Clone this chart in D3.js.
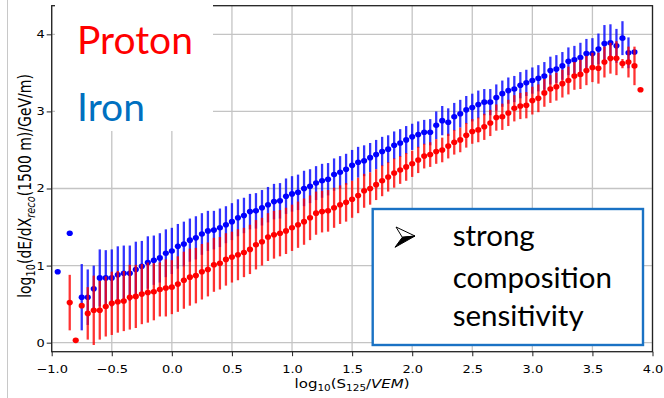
<!DOCTYPE html>
<html>
<head>
<meta charset="utf-8">
<script src="https://cdn.jsdelivr.net/npm/d3@7"></script>
<style>
  body { margin: 0; background: #fff; }
  svg { display: block; }
</style>
</head>
<body>
<div id="chart"></div>
<script>
// data (log10 S125 bins, mean log10 dE/dX, error half-length)
const protonX = [-0.85, -0.80, -0.75, -0.70, -0.65, -0.60, -0.55, -0.50, -0.45, -0.40, -0.35, -0.30, -0.25, -0.20, -0.15, -0.10, -0.05, 0.00,
  0.05, 0.10, 0.15, 0.20, 0.25, 0.30, 0.35, 0.40, 0.45, 0.50, 0.55, 0.60, 0.65, 0.70, 0.75, 0.80, 0.85, 0.90, 0.95, 1.00,
  1.05, 1.10, 1.15, 1.20, 1.25, 1.30, 1.35, 1.40, 1.45, 1.50, 1.55, 1.60, 1.65, 1.70, 1.75, 1.80, 1.85, 1.90, 1.95, 2.00,
  2.05, 2.10, 2.15, 2.20, 2.25, 2.30, 2.35, 2.40, 2.45, 2.50, 2.55, 2.60, 2.65, 2.70, 2.75, 2.80, 2.85, 2.90, 2.95, 3.00,
  3.05, 3.10, 3.15, 3.20, 3.25, 3.30, 3.35, 3.40, 3.45, 3.50, 3.55, 3.60, 3.65, 3.70, 3.75, 3.80, 3.85, 3.90];
const protonY = [0.52, 0.03, 0.48, 0.38, 0.42, 0.42, 0.47, 0.51, 0.53, 0.54, 0.59, 0.60, 0.63, 0.65, 0.66, 0.69, 0.71, 0.72,
  0.76, 0.81, 0.85, 0.87, 0.92, 0.95, 1.01, 1.03, 1.08, 1.11, 1.14, 1.17, 1.21, 1.27, 1.31, 1.37, 1.40, 1.42, 1.45, 1.49,
  1.53, 1.57, 1.62, 1.68, 1.70, 1.71, 1.75, 1.79, 1.82, 1.86, 1.91, 1.97, 2.00, 2.05, 2.10, 2.15, 2.20, 2.24, 2.28, 2.32,
  2.37, 2.42, 2.44, 2.48, 2.50, 2.55, 2.60, 2.63, 2.69, 2.74, 2.76, 2.80, 2.85, 2.92, 2.93, 2.98, 3.04, 3.07, 3.08, 3.14,
  3.17, 3.24, 3.29, 3.32, 3.36, 3.40, 3.46, 3.48, 3.53, 3.57, 3.56, 3.64, 3.69, 3.69, 3.62, 3.64, 3.59, 3.28];
const protonErr = [0.36, 0, 0, 0.34, 0.45, 0.38, 0.39, 0.41, 0.40, 0.39, 0.42, 0.41, 0.39, 0.39, 0.37, 0.35, 0.37, 0.35,
  0.36, 0.37, 0.37, 0.36, 0.36, 0.35, 0.35, 0.34, 0.34, 0.33, 0.33, 0.32, 0.32, 0.32, 0.31, 0.31, 0.31, 0.30, 0.30, 0.30,
  0.30, 0.30, 0.29, 0.28, 0.27, 0.27, 0.26, 0.25, 0.25, 0.24, 0.23, 0.22, 0.21, 0.20, 0.20, 0.19, 0.19, 0.18, 0.18, 0.17,
  0.17, 0.16, 0.16, 0.16, 0.16, 0.16, 0.16, 0.16, 0.16, 0.16, 0.16, 0.17, 0.17, 0.17, 0.17, 0.17, 0.17, 0.17, 0.17, 0.18,
  0.18, 0.18, 0.18, 0.18, 0.18, 0.18, 0.18, 0.19, 0.19, 0.19, 0.20, 0.20, 0.20, 0.22, 0.06, 0.20, 0.25, 0];

const ironX = [-0.95, -0.85, -0.75, -0.70, -0.65, -0.60, -0.55, -0.50, -0.45, -0.40, -0.35, -0.30, -0.25, -0.20, -0.15, -0.10, -0.05, 0.00,
  0.05, 0.10, 0.15, 0.20, 0.25, 0.30, 0.35, 0.40, 0.45, 0.50, 0.55, 0.60, 0.65, 0.70, 0.75, 0.80, 0.85, 0.90, 0.95, 1.00,
  1.05, 1.10, 1.15, 1.20, 1.25, 1.30, 1.35, 1.40, 1.45, 1.50, 1.55, 1.60, 1.65, 1.70, 1.75, 1.80, 1.85, 1.90, 1.95, 2.00,
  2.05, 2.10, 2.15, 2.20, 2.25, 2.30, 2.35, 2.40, 2.45, 2.50, 2.55, 2.60, 2.65, 2.70, 2.75, 2.80, 2.85, 2.90, 2.95, 3.00,
  3.05, 3.10, 3.15, 3.20, 3.25, 3.30, 3.35, 3.40, 3.45, 3.50, 3.55, 3.60, 3.65, 3.70, 3.75, 3.80, 3.85];
const ironY = [0.92, 1.42, 0.59, 0.59, 0.70, 0.84, 0.84, 0.84, 0.88, 0.90, 0.90, 0.95, 0.99, 1.04, 1.07, 1.10, 1.16, 1.19,
  1.25, 1.28, 1.33, 1.36, 1.41, 1.45, 1.46, 1.49, 1.53, 1.57, 1.62, 1.65, 1.70, 1.71, 1.75, 1.79, 1.83, 1.84, 1.90, 1.93,
  1.95, 2.00, 2.03, 2.07, 2.10, 2.12, 2.18, 2.21, 2.25, 2.30, 2.34, 2.36, 2.40, 2.44, 2.48, 2.51, 2.56, 2.59, 2.63, 2.67,
  2.70, 2.73, 2.73, 2.82, 2.88, 2.86, 2.93, 2.97, 3.02, 3.05, 3.09, 3.12, 3.12, 3.18, 3.23, 3.27, 3.29, 3.34, 3.37, 3.40,
  3.43, 3.46, 3.53, 3.55, 3.59, 3.65, 3.67, 3.70, 3.75, 3.75, 3.81, 3.88, 3.89, 3.85, 3.95, 3.76, 3.77];
const ironErr = [0, 0, 0.43, 0.36, 0.30, 0.37, 0.36, 0.37, 0.37, 0.36, 0.36, 0.36, 0.33, 0.34, 0.32, 0.32, 0.31, 0.30,
  0.29, 0.29, 0.28, 0.28, 0.27, 0.26, 0.25, 0.25, 0.24, 0.24, 0.24, 0.23, 0.23, 0.23, 0.23, 0.23, 0.23, 0.23, 0.23, 0.23,
  0.23, 0.23, 0.22, 0.22, 0.22, 0.21, 0.21, 0.21, 0.20, 0.20, 0.20, 0.20, 0.19, 0.19, 0.19, 0.18, 0.18, 0.18, 0.18, 0.17,
  0.17, 0.16, 0.17, 0.18, 0.19, 0.18, 0.18, 0.18, 0.18, 0.18, 0.18, 0.17, 0.17, 0.17, 0.17, 0.17, 0.17, 0.17, 0.17, 0.17,
  0.17, 0.18, 0.18, 0.18, 0.18, 0.18, 0.18, 0.19, 0.19, 0.20, 0.20, 0.24, 0.24, 0.22, 0.22, 0.20, 0.03];

const xTicks = [-1.0, -0.5, 0.0, 0.5, 1.0, 1.5, 2.0, 2.5, 3.0, 3.5, 4.0];
const yTicks = [0, 1, 2, 3, 4];
const legendNames = ['Proton', 'Iron'];
const legendColors = ['#ff0000', '#0070c0'];
const noteLines = ['strong', 'composition', 'sensitivity'];

const width = 664, height = 398;
const stretch = 1.2; // the plot image is stretched sideways on the slide

const svg = d3.select('#chart').append('svg')
  .attr('width', width)
  .attr('height', height)
  .style('background', '#fff');

const x = d3.scaleLinear().domain([-1, 4]).range([51.7, 652.5]);
const y = d3.scaleLinear().domain([-0.117, 4.371]).range([351.7, 5.7]);

// slide edge line on the left
svg.append('line')
  .attr('x1', 7.5).attr('x2', 7.5).attr('y1', 0).attr('y2', height)
  .attr('stroke', '#c8c8c8').attr('stroke-width', 1);

// grid
const grid = svg.append('g');
grid.selectAll('.vg').data(xTicks).enter().append('line')
  .attr('x1', d => x(d)).attr('x2', d => x(d))
  .attr('y1', y.range()[0]).attr('y2', y.range()[1])
  .attr('stroke', '#c4c4c4').attr('stroke-width', 1.3);
grid.selectAll('.hg').data(yTicks).enter().append('line')
  .attr('x1', x.range()[0]).attr('x2', x.range()[1])
  .attr('y1', d => y(d)).attr('y2', d => y(d))
  .attr('stroke', '#c4c4c4').attr('stroke-width', 1.3);

// one series = error bars + dots
function drawSeries(xs, ys, errs, color) {
  const data = xs.map((d, i) => ({ x: d, y: ys[i], e: errs[i] }));
  const g = svg.append('g');
  g.selectAll('.bar').data(data.filter(d => d.e > 0)).enter().append('line')
    .attr('x1', d => x(d.x)).attr('x2', d => x(d.x))
    .attr('y1', d => y(d.y - d.e)).attr('y2', d => y(d.y + d.e))
    .attr('stroke', color).attr('stroke-width', 2.3).attr('opacity', 0.8);
  g.selectAll('.dot').data(data).enter().append('ellipse')
    .attr('cx', d => x(d.x)).attr('cy', d => y(d.y))
    .attr('rx', 2.8 * 1.1).attr('ry', 2.8)
    .attr('fill', color);
}
drawSeries(ironX, ironY, ironErr, '#0000ff');
drawSeries(protonX, protonY, protonErr, '#ff0000');

// axes
const font = 'DejaVu Sans, sans-serif';
const xAxis = svg.append('g')
  .attr('transform', `translate(0,${y.range()[0]})`)
  .call(d3.axisBottom(x).tickValues(xTicks).tickSize(4.5).tickPadding(9)
    .tickFormat(d => d3.format('.1f')(d).replace('-', '\u2212')));
const yAxis = svg.append('g')
  .attr('transform', `translate(${x.range()[0]},0)`)
  .call(d3.axisLeft(y).tickValues(yTicks).tickSize(5).tickPadding(2).tickFormat(d3.format('d')));

[xAxis, yAxis].forEach(a => {
  a.select('.domain').remove();
  a.selectAll('.tick line').attr('stroke', '#333').attr('stroke-width', 1.1);
  a.selectAll('.tick text')
    .attr('font-family', font).attr('font-size', 10.8).attr('fill', '#000')
    .attr('transform', `scale(${stretch},1)`);
});
yAxis.selectAll('.tick text').attr('x', -7 / stretch);

// frame
svg.append('rect')
  .attr('x', x.range()[0]).attr('y', y.range()[1])
  .attr('width', x.range()[1] - x.range()[0])
  .attr('height', y.range()[0] - y.range()[1])
  .attr('fill', 'none').attr('stroke', '#222').attr('stroke-width', 1.3);

// axis titles
const xt = svg.append('g')
  .attr('transform', `translate(${(x.range()[0] + x.range()[1]) / 2},388) scale(${stretch},1)`)
  .append('text')
  .attr('text-anchor', 'middle').attr('font-family', font).attr('font-size', 12.5);
xt.append('tspan').text('log');
xt.append('tspan').attr('font-size', 8.7).attr('dy', 2.8).text('10');
xt.append('tspan').attr('dy', -2.8).text('(S');
xt.append('tspan').attr('font-size', 8.7).attr('dy', 2.8).text('125');
xt.append('tspan').attr('dy', -2.8).text('/');
xt.append('tspan').attr('font-style', 'italic').text('VEM');
xt.append('tspan').text(')');

const yt = svg.append('g')
  .attr('transform', `translate(31,186) scale(${stretch},1) rotate(-90)`)
  .append('text')
  .attr('text-anchor', 'middle').attr('font-family', font).attr('font-size', 14);
yt.append('tspan').text('log');
yt.append('tspan').attr('font-size', 9.8).attr('dy', 3).text('10');
yt.append('tspan').attr('dy', -3).text('(dE/dX');
yt.append('tspan').attr('font-size', 9.8).attr('dy', 3).attr('font-style', 'italic').text('reco');
yt.append('tspan').attr('dy', -3).text('(1500 m)/GeV/m)');

// white label box over the top-left of the plot
svg.append('rect')
  .attr('x', 55).attr('y', 0).attr('width', 158).attr('height', 131)
  .attr('fill', '#fff');
svg.selectAll('.legend').data(legendNames).enter().append('text')
  .attr('x', 77).attr('y', (d, i) => [54, 121][i])
  .attr('font-family', 'Lato, sans-serif').attr('font-size', 39)
  .attr('fill', (d, i) => legendColors[i])
  .text(d => d);

// note box
svg.append('rect')
  .attr('x', 372.7).attr('y', 209).attr('width', 270.3).attr('height', 136)
  .attr('fill', '#fff').attr('stroke', '#1a72c4').attr('stroke-width', 2.4);
svg.append('path')
  .attr('d', 'M396,227 L415,236 L402.3,237.3 Z')
  .attr('fill', '#fff').attr('stroke', '#000').attr('stroke-width', 1);
svg.append('path')
  .attr('d', 'M402.3,237.3 L415,236 L395,247.3 Z')
  .attr('fill', '#000').attr('stroke', '#000').attr('stroke-width', 1);
svg.selectAll('.note').data(noteLines).enter().append('text')
  .attr('x', 452.7).attr('y', (d, i) => [246, 288, 326][i])
  .attr('font-family', 'Lato, sans-serif').attr('font-size', 29.5)
  .attr('fill', '#000')
  .text(d => d);
</script>
</body>
</html>
